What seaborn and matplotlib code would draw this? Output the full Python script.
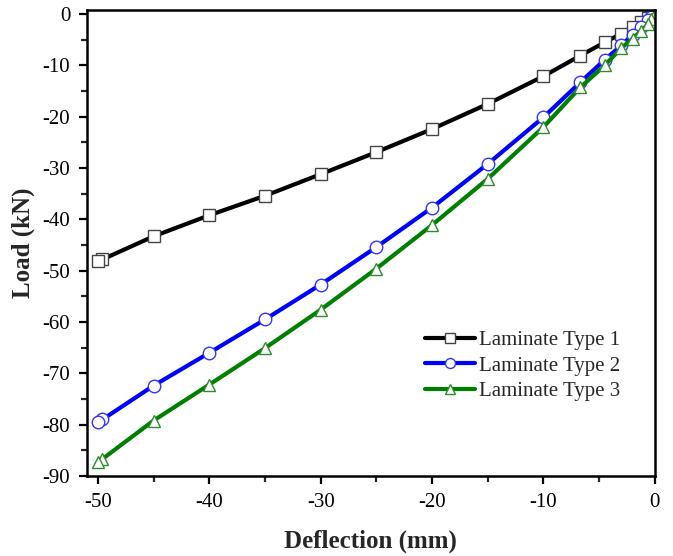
import numpy as np
import pandas as pd
import matplotlib
matplotlib.use("Agg")
import matplotlib.pyplot as plt
from matplotlib.ticker import MultipleLocator
import seaborn as sns

# Deflection steps (mm) shared by all three laminates
deflection = [0.0, -0.3, -0.6, -1.2, -2.0, -3.0, -4.5, -6.7, -10.0, -15.0,
              -20.0, -25.0, -30.0, -35.0, -40.0, -45.0, -49.6, -50.0]

# Load (kN) for each laminate
load_type1 = [0.0, -0.3, -0.7, -1.5, -2.5, -3.8, -5.5, -8.1, -12.1, -17.5,
              -22.4, -26.9, -31.2, -35.4, -39.2, -43.3, -47.8, -48.1]
load_type2 = [0.0, -0.6, -1.2, -2.5, -4.0, -6.1, -8.9, -13.3, -20.1, -29.2,
              -37.7, -45.4, -52.7, -59.5, -66.0, -72.4, -79.0, -79.5]
load_type3 = [0.0, -0.9, -2.0, -3.2, -4.8, -6.6, -10.0, -14.3, -22.0, -32.1,
              -41.1, -49.6, -57.6, -65.1, -72.2, -79.2, -86.7, -87.2]

labels = ["Laminate Type 1", "Laminate Type 2", "Laminate Type 3"]
series = [load_type1, load_type2, load_type3]
line_colors = ["#000000", "#0000ff", "#008000"]
edge_colors = ["#444444", "#3333ff", "#2e8b2e"]
markers = ["s", "o", "^"]

sns.set_theme(style="white")
plt.rcParams["font.family"] = ["Liberation Serif", "DejaVu Serif"]
plt.rcParams["axes.unicode_minus"] = False

fig = plt.figure(figsize=(6.73, 5.56), dpi=100)
ax = fig.add_axes([0.129, 0.144, 0.844, 0.838])

for lab, vals, lc, ec, mk in zip(labels, series, line_colors, edge_colors, markers):
    df = pd.DataFrame({"Deflection": deflection, "Load": vals})
    sns.lineplot(data=df, x="Deflection", y="Load", ax=ax, sort=False,
                 color=lc, linewidth=3.0, marker=mk, markersize=9,
                 markerfacecolor="white", markeredgecolor=ec,
                 markeredgewidth=1.0, label=lab)

ax.set_xlim(-51, 0)
ax.set_ylim(-90, 0.8)
ax.xaxis.set_major_locator(MultipleLocator(10))
ax.xaxis.set_minor_locator(MultipleLocator(5))
ax.yaxis.set_major_locator(MultipleLocator(10))
ax.yaxis.set_minor_locator(MultipleLocator(5))

ax.tick_params(axis="both", which="major", direction="out", length=6, width=1.6,
               labelsize=15, colors="black", bottom=True, left=True,
               top=False, right=False, pad=6)
ax.tick_params(axis="both", which="minor", direction="out", length=4, width=1.6,
               bottom=True, left=True, top=False, right=False)

for sp in ax.spines.values():
    sp.set_color("black")
    sp.set_linewidth(1.8)

ax.set_xlabel("Deflection (mm)", fontsize=18, fontweight="bold", labelpad=13)
ax.set_ylabel("Load (kN)", fontsize=18, fontweight="bold", labelpad=5)

leg = ax.legend(loc="lower right", bbox_to_anchor=(0.962, 0.133), frameon=False,
                fontsize=15, handlelength=2.4, handletextpad=0.2,
                labelspacing=0.3, borderaxespad=0.2, markerscale=0.8)

fig.savefig("out.png", dpi=100, facecolor="white")
